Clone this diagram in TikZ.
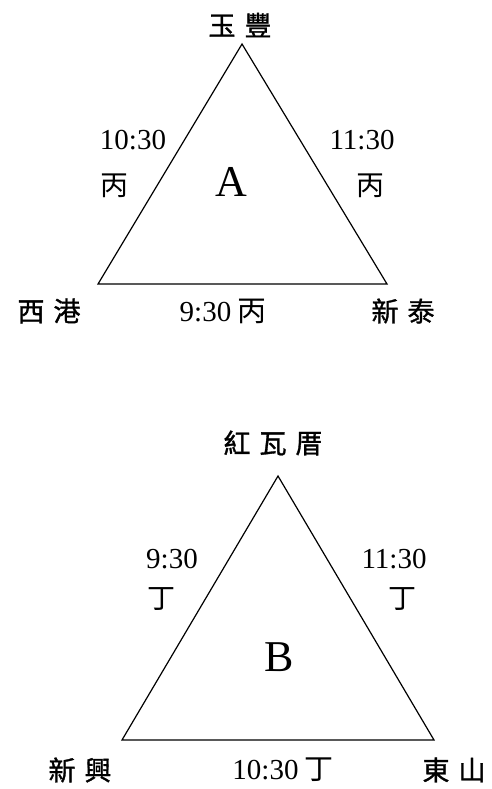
\documentclass[tikz,border=0pt]{standalone}
\usepackage{fontspec}
\setmainfont{Liberation Serif}
\newfontfamily\cjk{Noto Sans CJK TC}
\newfontfamily\cjkb[FakeBold=1.2]{Noto Sans CJK TC}
\begin{document}
\begin{tikzpicture}[x=1pt,y=-1pt,
  edge/.style={draw=black,line width=1.2pt,line join=miter},
  vname/.style={inner sep=0pt,font=\fontsize{27}{30}\selectfont\cjkb},
  tlabel/.style={inner sep=0pt,font=\fontsize{29}{32}\selectfont},
  tcjk/.style={inner sep=0pt,font=\fontsize{28}{30}\selectfont\cjk},
  big/.style={inner sep=0pt,font=\fontsize{44}{48}\selectfont}]
\useasboundingbox (0,0) rectangle (492,789);
% Triangle A
\coordinate (a1) at (242,44);
\coordinate (a2) at (98,284);
\coordinate (a3) at (387,284);
\draw[edge] (a1) -- (a2) -- (a3) -- cycle;
\node[vname] (na1) at (240,25) {玉\hspace{9pt}豐};
\node[vname] (na2) at (49,311) {西\hspace{9pt}港};
\node[vname] (na3) at (403,311) {新\hspace{9pt}泰};
\node[tlabel] (la1) at (133,140) {10:30};
\node[tcjk] (lb1) at (114,186) {丙};
\node[tlabel] (la2) at (362,140) {11:30};
\node[tcjk] (lb2) at (370,186) {丙};
\node[tlabel] (la3) at (223,311) {9:30\hspace{6pt}{\cjk 丙}};
\node[big] (A) at (231,182) {A};
% Triangle B
\coordinate (b1) at (278,476);
\coordinate (b2) at (122,740);
\coordinate (b3) at (434,740);
\draw[edge] (b1) -- (b2) -- (b3) -- cycle;
\node[vname] (nb1) at (273,443) {紅\hspace{9pt}瓦\hspace{9pt}厝};
\node[vname] (nb2) at (80,770) {新\hspace{9pt}興};
\node[vname] (nb3) at (454,770) {東\hspace{9pt}山};
\node[tlabel] (lc1) at (172,559) {9:30};
\node[tcjk] (ld1) at (161,599) {丁};
\node[tlabel] (lc2) at (394,559) {11:30};
\node[tcjk] (ld2) at (402,599) {丁};
\node[tlabel] (lc3) at (283,770) {10:30\hspace{6pt}{\cjk 丁}};
\node[big] (B) at (279,657) {B};
\end{tikzpicture}
\end{document}
